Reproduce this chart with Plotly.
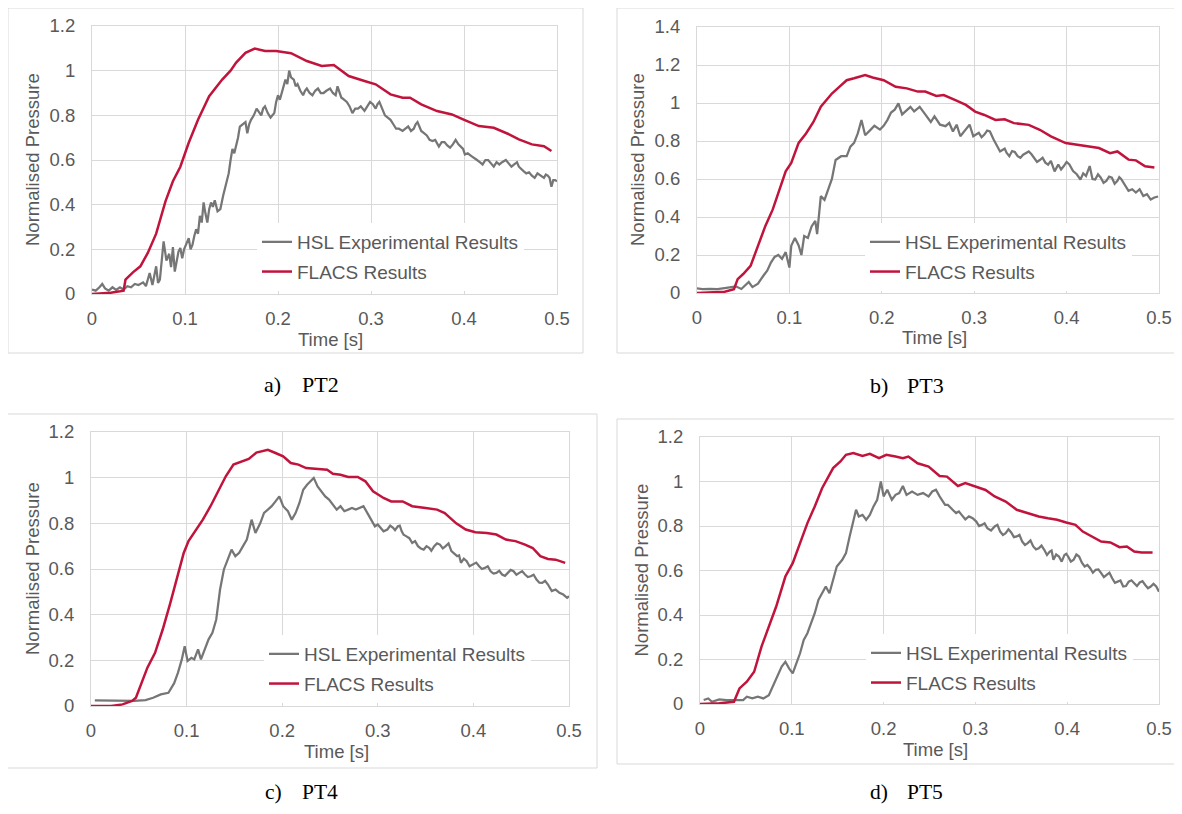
import plotly.graph_objects as go

# ---------------- data ----------------
pt2_hsl_t = [0.000, 0.004, 0.008, 0.011, 0.014, 0.018, 0.022, 0.026, 0.030, 0.034, 0.038, 0.042, 0.046, 0.050,
             0.055, 0.058, 0.062, 0.065, 0.069, 0.071, 0.073, 0.075, 0.077, 0.080, 0.083, 0.085, 0.087, 0.089,
             0.091, 0.093, 0.095, 0.097, 0.099, 0.102, 0.104, 0.106, 0.108, 0.110, 0.112, 0.114, 0.116, 0.118,
             0.120, 0.122, 0.124, 0.126, 0.128, 0.130, 0.132, 0.135, 0.138, 0.141, 0.143, 0.145, 0.147, 0.149,
             0.151, 0.153, 0.155, 0.157, 0.159, 0.162, 0.165, 0.167, 0.169, 0.171, 0.174, 0.177, 0.180, 0.182,
             0.184, 0.186, 0.189, 0.192, 0.194, 0.196, 0.198, 0.200, 0.202, 0.204, 0.206, 0.208, 0.210, 0.212,
             0.214, 0.217, 0.219, 0.221, 0.224, 0.227, 0.229, 0.231, 0.234, 0.237, 0.240, 0.243, 0.246, 0.249,
             0.252, 0.256, 0.259, 0.262, 0.264, 0.266, 0.268, 0.271, 0.274, 0.277, 0.280, 0.283, 0.286, 0.289,
             0.293, 0.296, 0.299, 0.302, 0.305, 0.307, 0.309, 0.312, 0.315, 0.318, 0.321, 0.324, 0.327, 0.330,
             0.334, 0.337, 0.340, 0.343, 0.346, 0.348, 0.350, 0.352, 0.354, 0.357, 0.360, 0.363, 0.366, 0.369,
             0.373, 0.376, 0.379, 0.382, 0.385, 0.388, 0.391, 0.394, 0.397, 0.399, 0.401, 0.404, 0.408, 0.411,
             0.414, 0.417, 0.420, 0.423, 0.426, 0.429, 0.432, 0.435, 0.438, 0.441, 0.445, 0.448, 0.451, 0.454,
             0.457, 0.459, 0.461, 0.464, 0.467, 0.470, 0.473, 0.476, 0.479, 0.482, 0.486, 0.488, 0.490, 0.492,
             0.494, 0.496, 0.498, 0.500]
pt2_hsl_v = [0.020, 0.015, 0.030, 0.045, 0.025, 0.015, 0.030, 0.018, 0.030, 0.020, 0.035, 0.030, 0.045, 0.040,
             0.052, 0.035, 0.094, 0.040, 0.124, 0.050, 0.064, 0.150, 0.236, 0.150, 0.180, 0.120, 0.210, 0.100,
             0.140, 0.190, 0.206, 0.160, 0.200, 0.230, 0.250, 0.200, 0.220, 0.260, 0.290, 0.270, 0.350, 0.320,
             0.410, 0.360, 0.320, 0.380, 0.410, 0.390, 0.420, 0.370, 0.380, 0.440, 0.470, 0.500, 0.540, 0.600,
             0.650, 0.630, 0.660, 0.700, 0.750, 0.760, 0.770, 0.720, 0.760, 0.780, 0.800, 0.830, 0.810, 0.800,
             0.830, 0.840, 0.810, 0.790, 0.800, 0.810, 0.860, 0.890, 0.870, 0.900, 0.930, 0.960, 0.940, 1.000,
             0.970, 0.960, 0.930, 0.940, 0.910, 0.890, 0.910, 0.920, 0.900, 0.890, 0.910, 0.920, 0.900, 0.900,
             0.910, 0.920, 0.900, 0.890, 0.930, 0.900, 0.880, 0.870, 0.860, 0.840, 0.810, 0.830, 0.830, 0.840,
             0.820, 0.840, 0.860, 0.850, 0.830, 0.850, 0.860, 0.830, 0.800, 0.790, 0.780, 0.760, 0.740, 0.740,
             0.730, 0.740, 0.750, 0.730, 0.740, 0.760, 0.770, 0.750, 0.730, 0.720, 0.710, 0.690, 0.685, 0.690,
             0.660, 0.680, 0.680, 0.665, 0.655, 0.670, 0.690, 0.670, 0.660, 0.650, 0.625, 0.630, 0.617, 0.610,
             0.600, 0.590, 0.580, 0.600, 0.600, 0.585, 0.570, 0.590, 0.580, 0.590, 0.600, 0.585, 0.570, 0.580,
             0.590, 0.570, 0.560, 0.550, 0.540, 0.545, 0.530, 0.520, 0.540, 0.530, 0.520, 0.535, 0.530, 0.520,
             0.480, 0.510, 0.510, 0.505]
pt2_flacs_t = [0.000, 0.010, 0.020, 0.030, 0.034, 0.036, 0.044, 0.052, 0.060, 0.069, 0.079, 0.087, 0.095, 0.104,
               0.114, 0.126, 0.140, 0.149, 0.155, 0.165, 0.175, 0.186, 0.198, 0.214, 0.231, 0.247, 0.260, 0.264,
               0.276, 0.293, 0.305, 0.321, 0.334, 0.342, 0.354, 0.371, 0.387, 0.399, 0.416, 0.432, 0.449, 0.459,
               0.473, 0.486, 0.494]
pt2_flacs_v = [0.000, 0.002, 0.006, 0.012, 0.015, 0.064, 0.097, 0.124, 0.184, 0.270, 0.415, 0.505, 0.570, 0.677,
               0.780, 0.886, 0.960, 1.000, 1.036, 1.080, 1.099, 1.088, 1.088, 1.078, 1.043, 1.021, 1.025, 1.013,
               0.976, 0.954, 0.939, 0.894, 0.879, 0.879, 0.849, 0.819, 0.804, 0.782, 0.752, 0.744, 0.714, 0.692,
               0.670, 0.662, 0.640]

pt3_hsl_t = [0.000, 0.006, 0.014, 0.022, 0.030, 0.036, 0.042, 0.048, 0.052, 0.056, 0.060, 0.066, 0.072, 0.076,
             0.080, 0.084, 0.088, 0.092, 0.096, 0.100, 0.102, 0.106, 0.110, 0.113, 0.116, 0.120, 0.124, 0.128,
             0.130, 0.134, 0.138, 0.142, 0.146, 0.150, 0.156, 0.162, 0.166, 0.170, 0.174, 0.178, 0.182, 0.188,
             0.192, 0.198, 0.202, 0.206, 0.210, 0.214, 0.218, 0.222, 0.227, 0.231, 0.235, 0.241, 0.247, 0.253,
             0.257, 0.263, 0.269, 0.273, 0.277, 0.281, 0.285, 0.291, 0.295, 0.299, 0.305, 0.308, 0.311, 0.314,
             0.317, 0.321, 0.325, 0.328, 0.331, 0.333, 0.335, 0.338, 0.341, 0.344, 0.347, 0.350, 0.353, 0.356,
             0.359, 0.362, 0.365, 0.368, 0.371, 0.374, 0.377, 0.380, 0.383, 0.387, 0.391, 0.394, 0.397, 0.400,
             0.403, 0.407, 0.411, 0.415, 0.418, 0.421, 0.425, 0.428, 0.431, 0.434, 0.437, 0.440, 0.443, 0.446,
             0.449, 0.452, 0.455, 0.457, 0.459, 0.463, 0.467, 0.471, 0.475, 0.479, 0.483, 0.487, 0.491, 0.495,
             0.499]
pt3_hsl_v = [0.025, 0.021, 0.022, 0.020, 0.026, 0.030, 0.035, 0.021, 0.040, 0.058, 0.031, 0.049, 0.092, 0.117,
             0.160, 0.190, 0.200, 0.180, 0.215, 0.134, 0.248, 0.290, 0.250, 0.200, 0.300, 0.290, 0.350, 0.380,
             0.310, 0.510, 0.490, 0.540, 0.600, 0.700, 0.720, 0.720, 0.770, 0.790, 0.840, 0.910, 0.830, 0.860,
             0.880, 0.860, 0.880, 0.910, 0.950, 0.965, 0.998, 0.940, 0.965, 0.980, 0.956, 0.980, 0.940, 0.900,
             0.930, 0.886, 0.878, 0.895, 0.850, 0.886, 0.825, 0.860, 0.886, 0.825, 0.843, 0.820, 0.834, 0.855,
             0.850, 0.808, 0.771, 0.745, 0.754, 0.760, 0.738, 0.720, 0.747, 0.742, 0.720, 0.712, 0.728, 0.735,
             0.745, 0.730, 0.710, 0.690, 0.700, 0.712, 0.686, 0.675, 0.695, 0.640, 0.676, 0.650, 0.668, 0.690,
             0.677, 0.642, 0.625, 0.597, 0.630, 0.616, 0.668, 0.600, 0.597, 0.625, 0.607, 0.580, 0.590, 0.612,
             0.607, 0.575, 0.590, 0.610, 0.600, 0.572, 0.538, 0.546, 0.529, 0.546, 0.510, 0.520, 0.492, 0.503,
             0.508]
pt3_flacs_t = [0.000, 0.030, 0.040, 0.044, 0.050, 0.058, 0.066, 0.074, 0.082, 0.090, 0.096, 0.102, 0.110, 0.118,
               0.126, 0.134, 0.146, 0.154, 0.162, 0.170, 0.182, 0.190, 0.202, 0.215, 0.227, 0.239, 0.247, 0.259,
               0.267, 0.279, 0.291, 0.301, 0.311, 0.323, 0.333, 0.343, 0.359, 0.371, 0.383, 0.399, 0.411, 0.423,
               0.435, 0.447, 0.455, 0.467, 0.475, 0.485, 0.495]
pt3_flacs_v = [0.000, 0.007, 0.020, 0.073, 0.100, 0.143, 0.248, 0.353, 0.440, 0.560, 0.640, 0.684, 0.790, 0.840,
               0.900, 0.980, 1.050, 1.085, 1.120, 1.130, 1.147, 1.134, 1.120, 1.085, 1.077, 1.060, 1.060, 1.037,
               1.042, 1.016, 0.990, 0.955, 0.937, 0.911, 0.914, 0.894, 0.885, 0.859, 0.824, 0.789, 0.780, 0.771,
               0.763, 0.736, 0.745, 0.702, 0.698, 0.667, 0.661]

pt4_hsl_t = [0.004, 0.033, 0.045, 0.057, 0.065, 0.073, 0.081, 0.087, 0.091, 0.095, 0.098, 0.101, 0.105, 0.108,
             0.112, 0.115, 0.119, 0.123, 0.127, 0.131, 0.135, 0.139, 0.143, 0.147, 0.151, 0.155, 0.159, 0.163,
             0.168, 0.172, 0.177, 0.181, 0.185, 0.189, 0.193, 0.197, 0.201, 0.206, 0.210, 0.214, 0.218, 0.222,
             0.226, 0.230, 0.233, 0.237, 0.241, 0.245, 0.249, 0.253, 0.257, 0.261, 0.265, 0.269, 0.273, 0.277,
             0.281, 0.285, 0.289, 0.293, 0.297, 0.300, 0.303, 0.306, 0.310, 0.313, 0.316, 0.318, 0.321, 0.323,
             0.325, 0.327, 0.330, 0.333, 0.336, 0.339, 0.342, 0.345, 0.348, 0.351, 0.354, 0.356, 0.359, 0.362,
             0.365, 0.368, 0.371, 0.374, 0.377, 0.380, 0.383, 0.385, 0.387, 0.390, 0.393, 0.396, 0.400, 0.403,
             0.406, 0.409, 0.412, 0.415, 0.418, 0.421, 0.424, 0.427, 0.430, 0.433, 0.436, 0.439, 0.442, 0.445,
             0.448, 0.451, 0.454, 0.457, 0.460, 0.463, 0.466, 0.469, 0.472, 0.475, 0.478, 0.480, 0.482, 0.486,
             0.490, 0.494, 0.498, 0.500]
pt4_hsl_v = [0.025, 0.022, 0.022, 0.026, 0.036, 0.051, 0.058, 0.100, 0.146, 0.204, 0.262, 0.197, 0.211, 0.204,
             0.248, 0.204, 0.248, 0.292, 0.321, 0.379, 0.510, 0.598, 0.641, 0.685, 0.656, 0.671, 0.700, 0.729,
             0.816, 0.758, 0.800, 0.846, 0.860, 0.875, 0.896, 0.918, 0.875, 0.853, 0.816, 0.845, 0.889, 0.947,
             0.969, 0.984, 0.999, 0.962, 0.940, 0.918, 0.904, 0.882, 0.860, 0.875, 0.853, 0.860, 0.867, 0.860,
             0.867, 0.875, 0.846, 0.816, 0.787, 0.795, 0.780, 0.765, 0.773, 0.790, 0.780, 0.770, 0.787, 0.790,
             0.765, 0.750, 0.743, 0.735, 0.714, 0.722, 0.700, 0.690, 0.685, 0.700, 0.692, 0.680, 0.700, 0.712,
             0.707, 0.690, 0.700, 0.712, 0.678, 0.665, 0.656, 0.660, 0.627, 0.645, 0.634, 0.612, 0.620, 0.628,
             0.612, 0.600, 0.605, 0.612, 0.590, 0.580, 0.583, 0.592, 0.576, 0.570, 0.583, 0.596, 0.590, 0.575,
             0.583, 0.590, 0.576, 0.565, 0.568, 0.575, 0.554, 0.540, 0.539, 0.548, 0.532, 0.520, 0.503, 0.510,
             0.496, 0.488, 0.474, 0.481]
pt4_flacs_t = [0.000, 0.021, 0.033, 0.043, 0.047, 0.053, 0.059, 0.067, 0.075, 0.083, 0.091, 0.097, 0.102, 0.109,
               0.117, 0.125, 0.133, 0.141, 0.149, 0.157, 0.165, 0.173, 0.185, 0.193, 0.201, 0.209, 0.217, 0.225,
               0.237, 0.247, 0.253, 0.261, 0.269, 0.279, 0.287, 0.295, 0.306, 0.314, 0.326, 0.336, 0.350, 0.362,
               0.370, 0.382, 0.392, 0.402, 0.414, 0.424, 0.434, 0.444, 0.454, 0.462, 0.470, 0.478, 0.486, 0.496]
pt4_flacs_v = [0.000, 0.000, 0.007, 0.022, 0.036, 0.100, 0.168, 0.233, 0.335, 0.452, 0.583, 0.670, 0.722, 0.765,
               0.816, 0.875, 0.940, 1.006, 1.057, 1.070, 1.082, 1.110, 1.122, 1.108, 1.093, 1.064, 1.057, 1.042,
               1.038, 1.035, 1.017, 1.013, 1.003, 1.003, 0.984, 0.940, 0.911, 0.896, 0.896, 0.875, 0.867, 0.860,
               0.845, 0.800, 0.773, 0.761, 0.758, 0.751, 0.729, 0.722, 0.707, 0.692, 0.656, 0.644, 0.641, 0.627]

pt5_hsl_t = [0.004, 0.009, 0.013, 0.021, 0.029, 0.037, 0.047, 0.051, 0.057, 0.063, 0.069, 0.075, 0.079, 0.083,
             0.089, 0.093, 0.097, 0.101, 0.105, 0.109, 0.113, 0.117, 0.121, 0.125, 0.129, 0.133, 0.137, 0.141,
             0.145, 0.149, 0.155, 0.159, 0.163, 0.167, 0.170, 0.173, 0.177, 0.181, 0.185, 0.189, 0.193, 0.197,
             0.200, 0.204, 0.209, 0.213, 0.217, 0.221, 0.225, 0.231, 0.237, 0.243, 0.249, 0.253, 0.257, 0.261,
             0.264, 0.267, 0.270, 0.273, 0.276, 0.279, 0.282, 0.285, 0.289, 0.293, 0.297, 0.301, 0.304, 0.307,
             0.310, 0.313, 0.317, 0.321, 0.324, 0.327, 0.330, 0.333, 0.336, 0.339, 0.342, 0.345, 0.348, 0.351,
             0.354, 0.357, 0.360, 0.363, 0.366, 0.369, 0.372, 0.375, 0.378, 0.381, 0.383, 0.385, 0.388, 0.391,
             0.394, 0.397, 0.399, 0.401, 0.404, 0.407, 0.410, 0.413, 0.416, 0.419, 0.422, 0.425, 0.428, 0.431,
             0.434, 0.437, 0.440, 0.443, 0.446, 0.449, 0.452, 0.455, 0.458, 0.461, 0.464, 0.467, 0.470, 0.473,
             0.476, 0.479, 0.482, 0.485, 0.488, 0.491, 0.494, 0.497, 0.500]
pt5_hsl_v = [0.018, 0.025, 0.010, 0.021, 0.018, 0.018, 0.018, 0.033, 0.025, 0.033, 0.025, 0.040, 0.078, 0.115,
             0.168, 0.190, 0.160, 0.138, 0.183, 0.228, 0.288, 0.318, 0.363, 0.408, 0.468, 0.498, 0.528, 0.498,
             0.558, 0.618, 0.648, 0.678, 0.753, 0.828, 0.873, 0.843, 0.850, 0.828, 0.850, 0.888, 0.918, 1.000,
             0.933, 0.963, 0.918, 0.940, 0.948, 0.980, 0.940, 0.955, 0.940, 0.948, 0.933, 0.955, 0.963, 0.933,
             0.915, 0.895, 0.895, 0.880, 0.870, 0.858, 0.865, 0.850, 0.830, 0.843, 0.835, 0.820, 0.800, 0.805,
             0.812, 0.790, 0.780, 0.798, 0.805, 0.775, 0.760, 0.768, 0.785, 0.771, 0.750, 0.753, 0.760, 0.730,
             0.715, 0.723, 0.735, 0.708, 0.695, 0.700, 0.712, 0.693, 0.670, 0.685, 0.690, 0.648, 0.672, 0.663,
             0.640, 0.670, 0.675, 0.663, 0.640, 0.648, 0.672, 0.663, 0.635, 0.618, 0.625, 0.610, 0.590, 0.603,
             0.605, 0.588, 0.570, 0.580, 0.590, 0.565, 0.545, 0.550, 0.555, 0.528, 0.530, 0.550, 0.556, 0.543,
             0.530, 0.546, 0.552, 0.535, 0.520, 0.528, 0.540, 0.528, 0.505]
pt5_flacs_t = [0.000, 0.021, 0.037, 0.043, 0.051, 0.059, 0.067, 0.075, 0.083, 0.093, 0.101, 0.109, 0.117, 0.125,
               0.133, 0.145, 0.153, 0.159, 0.167, 0.177, 0.185, 0.195, 0.203, 0.213, 0.221, 0.227, 0.237, 0.249,
               0.261, 0.269, 0.281, 0.289, 0.301, 0.311, 0.321, 0.333, 0.345, 0.357, 0.369, 0.379, 0.389, 0.399,
               0.409, 0.417, 0.427, 0.437, 0.447, 0.457, 0.465, 0.473, 0.481, 0.493]
pt5_flacs_v = [0.000, 0.003, 0.010, 0.070, 0.100, 0.145, 0.258, 0.348, 0.438, 0.573, 0.633, 0.723, 0.813, 0.888,
               0.970, 1.060, 1.090, 1.120, 1.128, 1.115, 1.124, 1.105, 1.120, 1.112, 1.105, 1.112, 1.082, 1.067,
               1.025, 1.022, 0.980, 0.993, 0.975, 0.962, 0.933, 0.910, 0.873, 0.858, 0.843, 0.835, 0.828, 0.816,
               0.805, 0.775, 0.753, 0.730, 0.726, 0.705, 0.708, 0.685, 0.681, 0.681]

panel_labels = ["a)", "b)", "c)", "d)"]
panel_names = ["PT2", "PT3", "PT4", "PT5"]
y_max = [1.2, 1.4, 1.2, 1.2]
hsl_name = "HSL Experimental Results"
flacs_name = "FLACS Results"
x_title = "Time [s]"
y_title = "Normalised Pressure"

series = [
    (pt2_hsl_t, pt2_hsl_v, pt2_flacs_t, pt2_flacs_v),
    (pt3_hsl_t, pt3_hsl_v, pt3_flacs_t, pt3_flacs_v),
    (pt4_hsl_t, pt4_hsl_v, pt4_flacs_t, pt4_flacs_v),
    (pt5_hsl_t, pt5_hsl_v, pt5_flacs_t, pt5_flacs_v),
]

# ---------------- layout geometry (page pixels) ----------------
W, H = 1182, 814
# plot area: left, right, top, bottom
plot_px = [(92, 557, 26, 294), (697, 1159, 27, 293), (91, 569, 432, 706), (700, 1159, 437, 704)]
box_px = [(8, 583, 8, 353), (617, 1190, 8, 353), (7.5, 597, 414, 768), (617, 1190, 419, 764)]
legend_px = [(257, 223), (865, 223), (264, 635), (866, 634)]
legend_bg_px = [(245, 555, 228, 290), (848, 1157, 227, 289), (247, 567, 637, 703), (852, 1157, 636, 701)]
caption_px = [(262, 300, 384, 22), (868, 905, 385, 22), (263, 300, 792, 21.5), (868, 905, 792, 21.5)]

GRAY = "#767676"
RED = "#C0143C"
TXT = "#595959"
GRID = "#D9D9D9"
FONT = "Liberation Sans"
FS = 18.5
LFS = 19


def px_x(x):
    return x / W


def px_y(y):
    return 1 - y / H


fig = go.Figure()
layout = dict(
    autosize=True, margin=dict(l=0, r=0, t=0, b=0, autoexpand=False),
    paper_bgcolor="white", plot_bgcolor="white",
    font=dict(family=FONT, size=FS, color=TXT),
    shapes=[], annotations=[],
)

for i in range(4):
    sfx = "" if i == 0 else str(i + 1)
    ht, hv, ft, fv = series[i]
    leg = "legend" if i == 0 else "legend" + str(i + 1)
    fig.add_trace(go.Scatter(x=ht, y=hv, mode="lines", name=hsl_name,
                             line=dict(color=GRAY, width=2.25), xaxis="x" + sfx, yaxis="y" + sfx,
                             legend=leg, legendgroup="hsl" + sfx))
    fig.add_trace(go.Scatter(x=ft, y=fv, mode="lines", name=flacs_name,
                             line=dict(color=RED, width=2.5), xaxis="x" + sfx, yaxis="y" + sfx,
                             legend=leg, legendgroup="flacs" + sfx))
    l, r, t, b = plot_px[i]
    layout["xaxis" + sfx] = dict(
        domain=[px_x(l), px_x(r)], anchor="y" + sfx, range=[0, 0.5], dtick=0.1, tick0=0,
        showgrid=True, gridcolor=GRID, gridwidth=1, zeroline=False, automargin=False,
        showline=True, linecolor=GRID, linewidth=1, mirror=True, ticklabeloverflow="allow",
        ticks="", ticklabelstandoff=8, tickfont=dict(size=FS, color=TXT, family=FONT),
    )
    layout["yaxis" + sfx] = dict(
        domain=[px_y(b), px_y(t)], anchor="x" + sfx, range=[0, y_max[i]], dtick=0.2, tick0=0,
        showgrid=True, gridcolor=GRID, gridwidth=1, zeroline=False, automargin=False,
        showline=True, linecolor=GRID, linewidth=1, mirror=True, ticklabeloverflow="allow",
        ticks="", ticklabelstandoff=12, tickfont=dict(size=FS, color=TXT, family=FONT),
    )
    lx, ly = legend_px[i]
    layout[leg] = dict(
        x=px_x(lx), y=px_y(ly), xanchor="left", yanchor="top", bgcolor="white",
        borderwidth=0, font=dict(size=LFS, color=TXT, family=FONT),
        traceorder="grouped", tracegroupgap=2, itemwidth=30,
    )
    # white area behind the legend that hides the gridlines
    gl, gr, gt, gb = legend_bg_px[i]
    layout["shapes"].append(dict(type="rect", xref="paper", yref="paper",
                                 x0=px_x(gl), x1=px_x(gr), y0=px_y(gb), y1=px_y(gt),
                                 line=dict(width=0), fillcolor="white", layer="between"))
    # outer chart border
    bl, br, bt, bb = box_px[i]
    layout["shapes"].append(dict(type="rect", xref="paper", yref="paper",
                                 x0=px_x(bl), x1=px_x(br), y0=px_y(bb), y1=px_y(bt),
                                 line=dict(color=GRID, width=1), fillcolor="rgba(0,0,0,0)", layer="below"))
    # axis titles
    layout["annotations"].append(dict(text=y_title, xref="paper", yref="paper",
                                      x=px_x(l - 59), y=px_y((t + b) / 2), textangle=-90,
                                      showarrow=False, xanchor="center", yanchor="middle",
                                      font=dict(size=FS, color=TXT, family=FONT)))
    layout["annotations"].append(dict(text=x_title, xref="paper", yref="paper",
                                      x=px_x((l + r) / 2 + 6), y=px_y(b + 45),
                                      showarrow=False, xanchor="center", yanchor="middle",
                                      font=dict(size=FS, color=TXT, family=FONT)))
    # captions
    cx1, cx2, cy, cfs = caption_px[i]
    layout["annotations"].append(dict(text=panel_labels[i], xref="paper", yref="paper",
                                      x=px_x(cx1), y=px_y(cy), showarrow=False,
                                      xanchor="left", yanchor="middle",
                                      font=dict(size=cfs, color="black", family="Liberation Serif")))
    layout["annotations"].append(dict(text=panel_names[i], xref="paper", yref="paper",
                                      x=px_x(cx2), y=px_y(cy), showarrow=False,
                                      xanchor="left", yanchor="middle",
                                      font=dict(size=cfs, color="black", family="Liberation Serif")))

fig.update_layout(**layout)
# the graph div is sized to the full window; the negative margins cancel the page's default 8px body margin
fig.write_html("out.html", config={"displayModeBar": False},
               default_width="%dpx" % W,
               default_height="%dpx; margin:-8px 0 -8px -8px" % H)
